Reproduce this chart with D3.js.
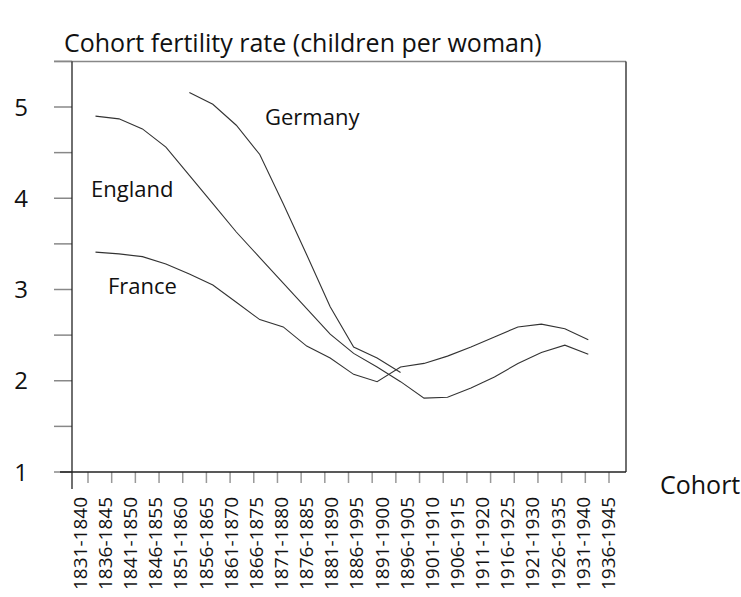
<!DOCTYPE html>
<html>
<head>
<meta charset="utf-8">
<script src="https://cdn.jsdelivr.net/npm/d3@7"></script>
<style>
  body { margin: 0; background: #fff; }
  text { font-family: "Open Sans", "Noto Sans", sans-serif; fill: #111; }
</style>
</head>
<body>
<script>
// Chart data

let cohorts = ['1831-1840', '1836-1845', '1841-1850', '1846-1855', '1851-1860', '1856-1865',
  '1861-1870', '1866-1875', '1871-1880', '1876-1885', '1881-1890', '1886-1995',
  '1891-1900', '1896-1905', '1901-1910', '1906-1915', '1911-1920', '1916-1925',
  '1921-1930', '1926-1935', '1931-1940', '1936-1945']

let england = [4.90, 4.87, 4.76, 4.56, 4.25, 3.94, 3.63, 3.35, 3.07, 2.79, 2.51, 2.30,
  2.15, 1.99, 1.81, 1.82, 1.92, 2.04, 2.19, 2.31, 2.39, 2.29]

let france = [3.41, 3.39, 3.36, 3.28, 3.17, 3.05, 2.86, 2.67, 2.59, 2.38, 2.25, 2.07,
  1.99, 2.15, 2.19, 2.27, 2.37, 2.48, 2.59, 2.62, 2.57, 2.45]

// Germany starts at 1851-1860 and stops at 1896-1905
let germany = [null, null, null, null, 5.16, 5.03, 4.80, 4.48, 3.94, 3.38, 2.81, 2.37,
  2.25, 2.09, null, null, null, null, null, null, null, null]

let yTickValues = [1, 1.5, 2, 2.5, 3, 3.5, 4, 4.5, 5, 5.5]
let yLabelValues = [1, 2, 3, 4, 5]

let width = 741
let height = 597

let svg = d3.select('body')
  .append('svg')
  .attr('width', width)
  .attr('height', height)

// Scales
let yScale = d3.scaleLinear()
  .domain([1, 5])
  .range([472, 107])

let xScale = d3.scaleLinear()
  .domain([0, cohorts.length - 1])
  .range([95.5, 588.3])

let tickScale = d3.scaleLinear()
  .domain([0, cohorts.length])
  .range([88, 609])

let labelScale = d3.scaleLinear()
  .domain([0, cohorts.length - 1])
  .range([80, 608])

let boxLeft = 72
let boxRight = 626
let boxTop = yScale(5.5)
let boxBottom = yScale(1)

// Box
svg.append('line')
  .attr('x1', 54).attr('x2', boxRight)
  .attr('y1', boxTop).attr('y2', boxTop)
  .attr('stroke', '#888').attr('stroke-width', 1.5)

svg.append('line')
  .attr('x1', boxRight).attr('x2', boxRight)
  .attr('y1', boxTop).attr('y2', boxBottom)
  .attr('stroke', '#222').attr('stroke-width', 1.3)

// Y ticks
svg.selectAll('.ytick')
  .data(yTickValues)
  .join('line')
  .attr('class', 'ytick')
  .attr('x1', 54).attr('x2', boxLeft)
  .attr('y1', d => yScale(d)).attr('y2', d => yScale(d))
  .attr('stroke', '#888').attr('stroke-width', 1.5)

svg.selectAll('.ylabel')
  .data(yLabelValues)
  .join('text')
  .attr('class', 'ylabel')
  .attr('x', 21)
  .attr('y', d => yScale(d))
  .attr('dy', '0.36em')
  .attr('text-anchor', 'middle')
  .style('font-size', '24px')
  .text(d => d)

// X ticks
svg.selectAll('.xtick')
  .data(d3.range(cohorts.length + 1))
  .join('line')
  .attr('class', 'xtick')
  .attr('x1', d => tickScale(d)).attr('x2', d => tickScale(d))
  .attr('y1', boxBottom).attr('y2', 483)
  .attr('stroke', '#999').attr('stroke-width', 1.5)

// Axis lines
svg.append('line')
  .attr('x1', boxLeft).attr('x2', boxLeft)
  .attr('y1', boxTop).attr('y2', 489)
  .attr('stroke', '#222').attr('stroke-width', 1.3)

svg.append('line')
  .attr('x1', 60).attr('x2', boxRight)
  .attr('y1', boxBottom).attr('y2', boxBottom)
  .attr('stroke', '#222').attr('stroke-width', 1.3)

svg.selectAll('.xlabel')
  .data(cohorts)
  .join('text')
  .attr('class', 'xlabel')
  .attr('transform', (d, i) => `translate(${labelScale(i)}, 497) rotate(-90)`)
  .attr('dy', '0.36em')
  .attr('text-anchor', 'end')
  .style('font-size', '19px')
  .text(d => d)

// Lines
let line = d3.line()
  .defined(d => d != null)
  .x((d, i) => xScale(i))
  .y(d => yScale(d))

let series = [england, france, germany]

svg.selectAll('.series')
  .data(series)
  .join('path')
  .attr('class', 'series')
  .attr('d', d => line(d))
  .attr('fill', 'none')
  .attr('stroke', '#333')
  .attr('stroke-width', 1.1)

// Text
svg.append('text')
  .attr('x', 64).attr('y', 52)
  .style('font-size', '25px')
  .text('Cohort fertility rate (children per woman)')

svg.append('text')
  .attr('x', 660).attr('y', 494)
  .style('font-size', '25px')
  .text('Cohort')

let names = [
  { name: 'Germany', x: 265, y: 125 },
  { name: 'England', x: 91, y: 197 },
  { name: 'France', x: 108, y: 294 }
]

svg.selectAll('.name')
  .data(names)
  .join('text')
  .attr('class', 'name')
  .attr('x', d => d.x)
  .attr('y', d => d.y)
  .style('font-size', '22px')
  .text(d => d.name)
</script>
</body>
</html>
